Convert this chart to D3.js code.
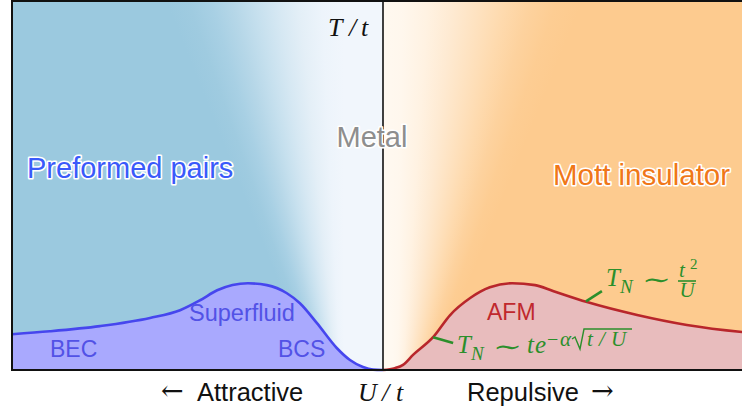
<!DOCTYPE html>
<html>
<head>
<meta charset="utf-8">
<script src="https://cdn.jsdelivr.net/npm/d3@7"></script>
<style>
  html, body { margin: 0; padding: 0; background: #fff; overflow: hidden; }
  svg { display: block; }
</style>
</head>
<body>
<svg id="chart" width="742" height="412"></svg>
<script>
// Hubbard-model phase diagram: interaction U/t (negative = attractive) vs. temperature T/t

// Superfluid transition temperature on the attractive side
const superfluidU = [-10, -8.98, -7.63, -6.28, -5.47, -4.93, -4.47, -3.64, -3.13, -2.59, -2.24, -1.78, -1.24, -0.89, -0.54, -0.27, 0];
const superfluidT = [0.097, 0.105, 0.119, 0.141, 0.162, 0.189, 0.216, 0.235, 0.230, 0.208, 0.181, 0.127, 0.059, 0.027, 0.008, 0.001, 0];

// Néel temperature on the repulsive side
const afmU = [0, 0.32, 0.54, 0.81, 1.35, 1.81, 2.35, 2.88, 3.48, 4.10, 4.58, 5.50, 6.85, 8.19, 9.68, 10];
const afmT = [0, 0.005, 0.014, 0.041, 0.089, 0.149, 0.195, 0.224, 0.235, 0.230, 0.214, 0.184, 0.149, 0.122, 0.103, 0.100];

// Asymptotic-law leader ticks (U/t, T/t)
const strongTick = [[5.47, 0.186], [5.90, 0.214]];
const weakTick = [[1.35, 0.089], [1.89, 0.073]];

const uDomain = [-10, 10];
const tDomain = [0, 1];

const svg = d3.select("#chart");
const x = d3.scaleLinear().domain(uDomain).range([12, 754]);
const y = d3.scaleLinear().domain(tDomain).range([370, 1]);

const x0 = x(0), yBase = y(0), yTop = y(1);
const xL = x(uDomain[0]), xR = x(uDomain[1]);

const defs = svg.append("defs");

// Background shading: preformed pairs (blue) and Mott insulator (orange) fading into the metal wedge
const blueFar = "#9bc9df", blueNear = "#f1f6fc";
const orangeFar = "#fdcb8f", orangeNear = "#fff9f1";
const ease = t => t * t * (3 - 2 * t);
const bg = svg.append("g");
const step = 2;
let k = 0;
for (let py = yTop - 1; py < yBase; py += step, k++) {
  const h = yBase - py;
  // attractive side
  const midL = x0 - (54 + 0.2 * h), wL = 30 + 0.4 * h;
  const gL = defs.append("linearGradient").attr("id", "gl" + k)
    .attr("gradientUnits", "userSpaceOnUse")
    .attr("x1", midL - wL / 2).attr("x2", midL + wL / 2).attr("y1", 0).attr("y2", 0);
  const iL = d3.interpolateRgb(blueFar, blueNear);
  d3.range(0, 1.001, 0.125).forEach(s => gL.append("stop").attr("offset", s).attr("stop-color", iL(ease(s))));
  bg.append("rect").attr("x", xL).attr("y", py).attr("width", x0 - xL).attr("height", step + 0.5)
    .attr("fill", `url(#gl${k})`);
  // repulsive side
  const midR = x0 + 30 + 0.18 * h, wR = 40 + 0.45 * h;
  const gR = defs.append("linearGradient").attr("id", "gr" + k)
    .attr("gradientUnits", "userSpaceOnUse")
    .attr("x1", midR - wR / 2).attr("x2", midR + wR / 2).attr("y1", 0).attr("y2", 0);
  const iR = d3.interpolateRgb(orangeNear, orangeFar);
  d3.range(0, 1.001, 0.125).forEach(s => gR.append("stop").attr("offset", s).attr("stop-color", iR(ease(s))));
  bg.append("rect").attr("x", x0).attr("y", py).attr("width", xR - x0).attr("height", step + 0.5)
    .attr("fill", `url(#gr${k})`);
}

// Ordered phases
const sfData = superfluidU.map((u, i) => [u, superfluidT[i]]);
const afmData = afmU.map((u, i) => [u, afmT[i]]);

const area = d3.area().x(d => x(d[0])).y0(yBase).y1(d => y(d[1])).curve(d3.curveMonotoneX);
const line = d3.line().x(d => x(d[0])).y(d => y(d[1])).curve(d3.curveMonotoneX);

svg.append("path").attr("d", area(sfData)).attr("fill", "#a9a9fe");
svg.append("path").attr("d", area(afmData)).attr("fill", "#e8bcbd");
svg.append("path").attr("d", line(sfData)).attr("fill", "none").attr("stroke", "#4646ee").attr("stroke-width", 2.6);
svg.append("path").attr("d", line(afmData)).attr("fill", "none").attr("stroke", "#b8262b").attr("stroke-width", 2.6);

// Frame and U = 0 axis
svg.append("line").attr("x1", x0).attr("x2", x0).attr("y1", 0).attr("y2", yBase)
  .attr("stroke", "#111").attr("stroke-width", 1.6);
svg.append("rect").attr("x", xL).attr("y", yTop).attr("width", xR - xL).attr("height", yBase - yTop)
  .attr("fill", "none").attr("stroke", "#111").attr("stroke-width", 2);

// Leader ticks for the asymptotic laws
const green = "#2b8f2b";
[strongTick, weakTick].forEach(t => {
  svg.append("line")
    .attr("x1", x(t[0][0])).attr("y1", y(t[0][1]))
    .attr("x2", x(t[1][0])).attr("y2", y(t[1][1]))
    .attr("stroke", green).attr("stroke-width", 2.6);
});

// Text helpers
const sans = "'Liberation Sans', Arial, Helvetica, sans-serif";
const serif = "'Liberation Serif', 'Times New Roman', 'DejaVu Serif', serif";
const symb = "'DejaVu Serif', serif";
function label(txt, px, py, size, color, opts = {}) {
  const t = svg.append("text").text(txt)
    .attr("font-family", opts.family || sans).attr("font-size", size).attr("fill", color)
    .attr("text-anchor", opts.anchor || "start");
  if (opts.stretch) t.attr("transform", `translate(${px},${py}) scale(${opts.stretch},1)`);
  else t.attr("x", px).attr("y", py);
  if (opts.italic) t.attr("font-style", "italic");
  if (opts.halo) t.attr("stroke", "#fff").attr("stroke-width", 3.2).attr("stroke-linejoin", "round")
    .attr("paint-order", "stroke");
  return t;
}

// Region names
label("Preformed pairs", 27, 178, 29, "#3a5afa", { halo: true });
label("Metal", 372, 147, 29, "#8e8e8e", { halo: true, anchor: "middle" });
label("Mott insulator", 553, 185, 29.5, "#f07718", { halo: true });
label("Superfluid", 189, 321, 23.5, "#5252e6");
label("BEC", 50, 357, 23, "#5252e6");
label("BCS", 278, 357, 23, "#5252e6");
label("AFM", 487, 320, 23, "#c0282d");

// Axis titles
label("T", 328, 36, 26, "#111", { family: serif, italic: true });
label("/", 349, 36, 26, "#111", { family: serif, italic: true });
label("t", 361, 36, 26, "#111", { family: serif, italic: true });

label("U", 358, 401, 26, "#111", { family: serif, italic: true });
label("/", 382, 401, 26, "#111", { family: serif, italic: true });
label("t", 396, 401, 26, "#111", { family: serif, italic: true });

label("\u2190", 161, 400, 27, "#111", { family: symb });
label("Attractive", 197, 401, 25.5, "#111");
label("Repulsive", 467, 401, 25.5, "#111");
label("\u2192", 591, 400, 27, "#111", { family: symb });

// T_N ~ t^2 / U
label("T", 606, 286, 25, green, { family: serif, italic: true });
label("N", 620, 293, 19, green, { family: serif, italic: true });
label("\u223C", 642, 288, 24, green, { family: symb, stretch: 1.45 });
label("t", 679, 277, 21, green, { family: serif, italic: true });
label("2", 690, 269, 15, green, { family: serif });
svg.append("line").attr("x1", 678).attr("x2", 696).attr("y1", 281).attr("y2", 281)
  .attr("stroke", green).attr("stroke-width", 1.6);
label("U", 687, 297, 21, green, { family: serif, italic: true, anchor: "middle" });

// T_N ~ t e^{-alpha sqrt(t/U)}
label("T", 457, 353, 25, green, { family: serif, italic: true });
label("N", 471, 360, 19, green, { family: serif, italic: true });
label("\u223C", 493, 355, 24, green, { family: symb, stretch: 1.45 });
label("t", 527, 353, 25, green, { family: serif, italic: true });
label("e", 535, 353, 25, green, { family: serif, italic: true });
label("\u2212", 547, 346, 20, green, { family: serif });
label("\u03B1", 560, 346, 21, green, { family: serif, italic: true });
svg.append("path").attr("d", "M572,339 L575,337 L580,349 L584,329 L632,329")
  .attr("fill", "none").attr("stroke", green).attr("stroke-width", 1.4).attr("stroke-linejoin", "miter");
label("t", 587, 346, 21, green, { family: serif, italic: true });
label("/", 599, 346, 21, green, { family: serif, italic: true });
label("U", 611, 346, 21, green, { family: serif, italic: true });
</script>
</body>
</html>
